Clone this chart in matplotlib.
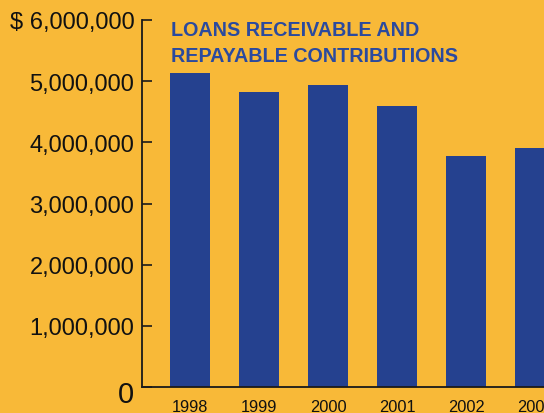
import matplotlib
matplotlib.use("Agg")
import matplotlib.pyplot as plt
from matplotlib.ticker import FuncFormatter
from matplotlib.transforms import ScaledTranslation

years = ["1998", "1999", "2000", "2001", "2002", "2003"]
loans = [5140000, 4830000, 4940000, 4600000, 3780000, 3900000]
y_ticks = [0, 1000000, 2000000, 3000000, 4000000, 5000000, 6000000]
title = "LOANS RECEIVABLE AND\nREPAYABLE CONTRIBUTIONS"

bg = "#F8B938"
bar_color = "#25418F"
title_color = "#2B4A9E"

plt.rcParams["font.family"] = ["Liberation Sans", "DejaVu Sans"]

W, H = 544, 414
fig = plt.figure(figsize=(W / 100, H / 100), dpi=100, facecolor=bg)
ax = fig.add_axes([142 / W, 26 / H, (W - 142) / W, (388 - 21) / H])
ax.set_facecolor(bg)

x = list(range(len(years)))
ax.bar(x, loans, width=0.58, color=bar_color, zorder=2)

ax.set_xlim(-0.696, 5.13)
ax.set_ylim(0, 6000000)
ax.set_yticks(y_ticks)


def fmt(v, pos):
    if v == 0:
        return "0"
    s = f"{int(v):,}"
    return "$ " + s if v == max(y_ticks) else s


ax.yaxis.set_major_formatter(FuncFormatter(fmt))
ax.set_xticks(x)
ax.set_xticklabels(years)

for side in ("top", "right"):
    ax.spines[side].set_visible(False)
for side in ("left", "bottom"):
    ax.spines[side].set_linewidth(1.3)
    ax.spines[side].set_color("#1a1a1a")

ax.tick_params(axis="y", direction="in", length=7.5, width=1.2, pad=5.5,
               labelsize=17, color="#1a1a1a", labelcolor="#111111")
ax.tick_params(axis="x", length=0, pad=9, labelsize=11.8, labelcolor="#111111")

# the zero label is set larger than the others and sits a bit lower
zero_label = ax.yaxis.get_major_ticks()[0].label1
zero_label.set_fontsize(21)
zero_label.set_transform(zero_label.get_transform()
                         + ScaledTranslation(0, -4 / 100, fig.dpi_scale_trans))

fig.text(171 / W, 1 - 21 / H, title, ha="left", va="top", color=title_color,
         fontsize=14.2, fontweight="bold", linespacing=1.5)

fig.savefig("out.png", dpi=100, facecolor=bg)
